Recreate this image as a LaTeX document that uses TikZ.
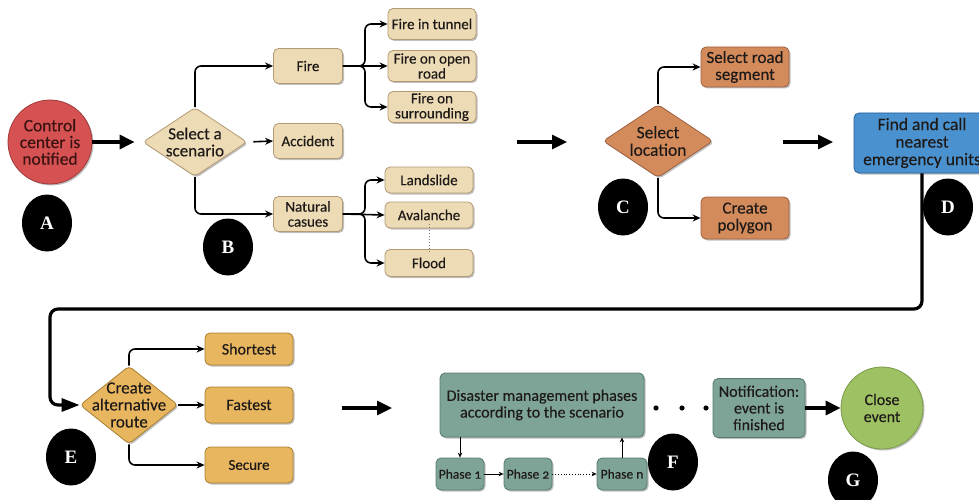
\documentclass[tikz,border=0pt]{standalone}
\usepackage{fontspec}
\setmainfont[FakeBold=0.25,Numbers=OldStyle]{Carlito}
\newfontfamily\lblfont{Liberation Serif}
\usetikzlibrary{shapes.geometric,arrows.meta,shadows}
\definecolor{cred}{HTML}{D65252}
\definecolor{credd}{HTML}{A23A3A}
\definecolor{ctan}{HTML}{EDDBB6}
\definecolor{ctand}{HTML}{B39A72}
\definecolor{corg}{HTML}{D48B5C}
\definecolor{corgd}{HTML}{9E6040}
\definecolor{cblue}{HTML}{4A91CF}
\definecolor{cblued}{HTML}{23609A}
\definecolor{cgold}{HTML}{E9B660}
\definecolor{cgoldd}{HTML}{A8802F}
\definecolor{cteal}{HTML}{7EA497}
\definecolor{ctealdd}{HTML}{567A6E}
\definecolor{cgreen}{HTML}{9DC163}
\definecolor{cgreend}{HTML}{7A9A48}
\definecolor{ctext}{HTML}{1E1A18}
\definecolor{credtext}{HTML}{3A1212}
\tikzset{
  sh/.style={drop shadow={shadow xshift=1.5pt,shadow yshift=-1.5pt,opacity=0.25,fill=black}},
  box/.style={rectangle,rounded corners=5pt,draw,line width=0.8pt,align=center,inner sep=1pt,text=ctext,sh,
     font=\fontsize{15}{15}\selectfont},
  tanbox/.style={box,fill=ctan,draw=ctand},
  orgbox/.style={box,fill=corg,draw=corgd,font=\fontsize{17}{17}\selectfont},
  goldbox/.style={box,fill=cgold,draw=cgoldd,font=\fontsize{16}{16}\selectfont},
  tealbox/.style={box,fill=cteal,draw=ctealdd,font=\fontsize{16}{16.7}\selectfont},
  phbox/.style={box,fill=cteal,draw=ctealdd,font=\fontsize{13.5}{13.5}\selectfont,inner sep=0pt},
  dia/.style={diamond,draw,line width=0.8pt,rounded corners=4pt,inner sep=0pt,sh},
  dtext/.style={align=center,text=ctext,inner sep=0pt},
  lbl/.style={ellipse,fill=black,text=white,minimum width=50pt,minimum height=57pt,inner sep=0pt,
     font=\lblfont\bfseries\fontsize{19}{19}\selectfont},
  conn/.style={line width=1.6pt,rounded corners=6pt,-{Stealth[length=8pt,width=7pt]}},
  thin/.style={line width=0.8pt,-{Stealth[length=5pt,width=4.5pt]}},
  big/.style={line width=3.2pt,-{Triangle[length=15pt,width=14pt]}},
}
\begin{document}
\begin{tikzpicture}[x=1pt,y=-1pt]
\useasboundingbox (0,0) rectangle (979,500);
% A
\node[circle,fill=cred,draw=credd,line width=0.8pt,minimum size=84pt,inner sep=0pt,align=center,text=credtext,
  font=\fontsize{17.5}{16.7}\selectfont,sh] (A) at (50,142) {Control\\center is\\notified};
% B
\node[dia,fill=ctan,draw=ctand,minimum width=104pt,minimum height=69pt] (B) at (195,142) {};
\node[dtext,font=\fontsize{17}{17}\selectfont] at (B) {Select a\\scenario};
\node[tanbox,minimum width=69pt,minimum height=35pt] (fire) at (308,66) {Fire};
\node[tanbox,minimum width=69pt,minimum height=35pt] (acc) at (308,141) {Accident};
\node[tanbox,minimum width=69pt,minimum height=35pt] (nat) at (308,214) {Natural\\casues};
\node[tanbox,minimum width=88pt,minimum height=31pt] (t1) at (432,24) {Fire in tunnel};
\node[tanbox,minimum width=88pt,minimum height=31pt] (t2) at (432,66) {Fire on open\\road};
\node[tanbox,minimum width=88pt,minimum height=31pt] (t3) at (432,107) {Fire on\\surrounding};
\node[tanbox,minimum width=88pt,minimum height=26pt] (ls) at (429,180) {Landslide};
\node[tanbox,minimum width=88pt,minimum height=26pt] (av) at (429,215) {Avalanche};
\node[tanbox,minimum width=88pt,minimum height=27pt] (fl) at (429,263) {Flood};
\draw[big,shorten >=8pt] (A) -- (B);
\draw[conn] (B.north) |- (fire.west);
\draw[conn] (B.south) |- (nat.west);
\draw[conn,shorten <=6pt] (B.east) -- (acc.west);
\coordinate (fj) at (365,66);
\coordinate (nj) at (365,214);
\draw[conn] (fire.east) -- (t2.west);
\draw[conn] (fire.east) -- (fj) |- (t1.west);
\draw[conn] (fire.east) -- (fj) |- (t3.west);
\draw[conn] (nat.east) -- (av.west);
\draw[conn] (nat.east) -- (nj) |- (ls.west);
\draw[conn] (nat.east) -- (nj) |- (fl.west);
\draw[line width=1pt,dotted,ctext!60] ([yshift=4pt]av.south) -- ([yshift=-4pt]fl.north);
% C
\coordinate (a1s) at (517,142);
\coordinate (a1e) at (567,142);
\draw[big] (a1s) -- (a1e);
\node[dia,fill=corg,draw=corgd,minimum width=110pt,minimum height=73pt] (C) at (658,141) {};
\node[dtext,font=\fontsize{17.5}{17.5}\selectfont] at (C) {Select\\location};
\node[orgbox,minimum width=88pt,minimum height=40pt] (seg) at (745,67) {Select road\\segment};
\node[orgbox,minimum width=88pt,minimum height=42pt] (poly) at (745,218) {Create\\polygon};
\draw[conn] (C.north) |- (seg.west);
\draw[conn] (C.south) |- (poly.west);
% D
\coordinate (a2s) at (783,142);
\coordinate (a2e) at (833,142);
\draw[big] (a2s) -- (a2e);
\node[box,fill=cblue,draw=cblued,minimum width=136pt,minimum height=60pt,font=\fontsize{17.5}{17.5}\selectfont] (Dbox) at (922,143) {Find and call\\nearest\\emergency units};
% E
\node[dia,fill=cgold,draw=cgoldd,minimum width=98pt,minimum height=78pt] (E) at (129,405) {};
\node[dtext,font=\fontsize{17}{17}\selectfont] at (E) {Create\\alternative\\route};
\coordinate (loopL) at (50,309);
\draw[line width=3.2pt,rounded corners=8pt,-{Triangle[length=18pt,width=13pt]}] (Dbox.south) |- (loopL) |- (E.west);
\node[goldbox,minimum width=88pt,minimum height=32pt] (sh) at (249,349) {Shortest};
\node[goldbox,minimum width=88pt,minimum height=36pt] (fa) at (249,405) {Fastest};
\node[goldbox,minimum width=88pt,minimum height=36pt,font=\fontsize{15}{15}\selectfont] (se) at (249,465) {Secure};
\draw[conn] (E.north) |- (sh.west);
\draw[conn] (E.south) |- (se.west);
\draw[conn] (E.east) -- (fa.west);
% F
\coordinate (a3s) at (342,408);
\coordinate (a3e) at (392,408);
\draw[big] (a3s) -- (a3e);
\node[tealbox,minimum width=204pt,minimum height=64pt] (dis) at (542,405) {Disaster management phases\\according to the scenario};
\node[phbox,minimum width=48pt,minimum height=32pt] (p1) at (460,474) {Phase 1};
\node[phbox,minimum width=48pt,minimum height=32pt] (p2) at (528,474) {Phase 2};
\node[phbox,minimum width=50pt,minimum height=32pt] (pn) at (622,474) {Phase n};
\draw[thin] (p1.north |- dis.south) -- (p1.north);
\draw[thin] (p1.east) -- (p2.west);
\draw[thin,dotted] (p2.east) -- (pn.west);
\draw[thin] (pn.north) -- (pn.north |- dis.south);
\foreach \i/\x in {1/656,2/682,3/706}
  \fill[black] (\x,408) circle (2.6pt) coordinate (dot\i);
\node[tealbox,minimum width=92pt,minimum height=59pt] (notif) at (759,408) {Notification:\\event is\\finished};
\node[circle,fill=cgreen,draw=cgreend,line width=0.8pt,minimum size=82pt,align=center,text=ctext,
  font=\fontsize{16}{17}\selectfont,sh] (close) at (882,408) {Close\\event};
\draw[line width=3.2pt,-{Triangle[length=15pt,width=14pt]}] (notif) -- (close);
% labels
\node[lbl] at (47,223) {A};
\node[lbl] at (228,247) {B};
\node[lbl] at (623,207) {C};
\node[lbl] at (948,207) {D};
\node[lbl] at (71,457) {E};
\node[lbl] at (673,462) {F};
\node[lbl] at (853,480) {G};
\end{tikzpicture}
\end{document}
